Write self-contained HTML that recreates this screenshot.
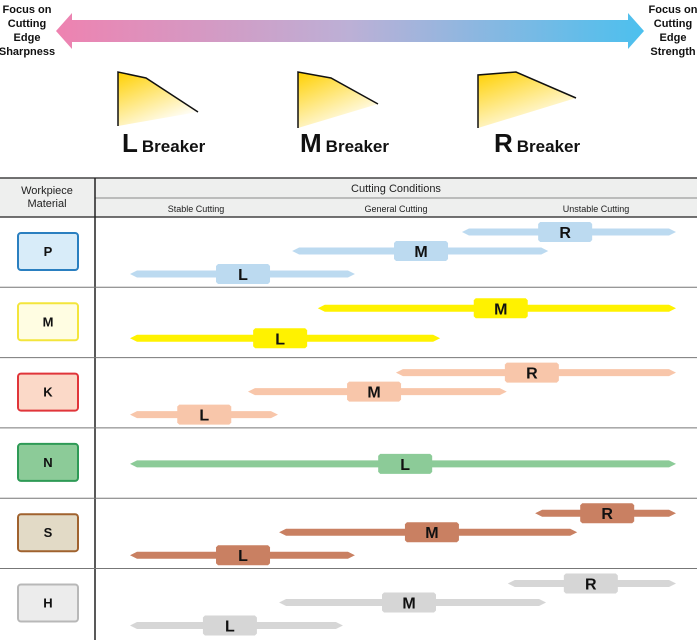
<!DOCTYPE html>
<html><head><meta charset="utf-8">
<style>
body{margin:0;background:#fff;font-family:"Liberation Sans",Arial,sans-serif;}
svg{display:block}
</style></head>
<body>
<svg id="chart" width="700" height="643" viewBox="0 0 700 643" xmlns="http://www.w3.org/2000/svg">
<defs>
<linearGradient id="arrowGrad" x1="0" x2="1" y1="0" y2="0">
<stop offset="0" stop-color="#ee82b0"/><stop offset="0.5" stop-color="#bcb0d6"/><stop offset="1" stop-color="#4cc0ee"/>
</linearGradient>
<linearGradient id="wedgeGrad" x1="0" y1="0" x2="0.6" y2="1">
<stop offset="0" stop-color="#ffd000"/><stop offset="1" stop-color="#ffffff"/>
</linearGradient>
</defs>
<g>
<polygon points="56,31 72,13 72,20 628,20 628,13 644,31 628,49 628,42 72,42 72,49" fill="url(#arrowGrad)"/>
</g>
<g font-size="11" font-weight="bold" text-anchor="middle" fill="#111">
<text x="27" y="13"><tspan x="27">Focus on</tspan><tspan x="27" dy="14">Cutting</tspan><tspan x="27" dy="14">Edge</tspan><tspan x="27" dy="14">Sharpness</tspan></text>
<text x="673" y="13"><tspan x="673">Focus on</tspan><tspan x="673" dy="14">Cutting</tspan><tspan x="673" dy="14">Edge</tspan><tspan x="673" dy="14">Strength</tspan></text>
</g>
<g>
<polygon points="118,72 146,78 198,112 118,126" fill="url(#wedgeGrad)"/>
<polyline points="118,126 118,72 146,78 198,112" fill="none" stroke="#111" stroke-width="1.5"/>
</g>
<g>
<polygon points="298,72 331,78 378,104 298,128" fill="url(#wedgeGrad)"/>
<polyline points="298,128 298,72 331,78 378,104" fill="none" stroke="#111" stroke-width="1.5"/>
</g>
<g>
<polygon points="478,75 516,72 576,98 478,128" fill="url(#wedgeGrad)"/>
<polyline points="478,128 478,75 516,72 576,98" fill="none" stroke="#111" stroke-width="1.5"/>
</g>
<g font-weight="bold" fill="#111">
<text x="122" y="152"><tspan font-size="26">L</tspan><tspan font-size="17" dx="4">Breaker</tspan></text>
<text x="300" y="152"><tspan font-size="26">M</tspan><tspan font-size="17" dx="4">Breaker</tspan></text>
<text x="494" y="152"><tspan font-size="26">R</tspan><tspan font-size="17" dx="4">Breaker</tspan></text>
</g>
<g>
<rect x="0" y="178" width="697" height="39" fill="#eeefee"/>
<line x1="0" y1="178" x2="697" y2="178" stroke="#444" stroke-width="1.5"/>
<line x1="95" y1="198" x2="697" y2="198" stroke="#888" stroke-width="1"/>
<line x1="0" y1="217" x2="697" y2="217" stroke="#444" stroke-width="1.5"/>
<line x1="95" y1="178" x2="95" y2="640" stroke="#222" stroke-width="1.5"/>
<text x="47" y="194" font-size="11" text-anchor="middle" fill="#222"><tspan x="47">Workpiece</tspan><tspan x="47" dy="13">Material</tspan></text>
<text x="396" y="192" font-size="11" text-anchor="middle" fill="#222">Cutting Conditions</text>
<text x="196" y="212" font-size="9" text-anchor="middle" fill="#222">Stable Cutting</text>
<text x="396" y="212" font-size="9" text-anchor="middle" fill="#222">General Cutting</text>
<text x="596" y="212" font-size="9" text-anchor="middle" fill="#222">Unstable Cutting</text>
</g>
<g id="rows"></g>
</svg>
<script>
// Materials and their range bars (values on 0-100 cutting-condition scale: 0=stable, 100=unstable)
const materials = ["P","M","K","N","S","H"];
const barMaterial = ["P","P","P","M","M","K","K","K","N","S","S","S","H","H","H"];
const barBreaker  = ["R","M","L","M","L","R","M","L","L","R","M","L","R","M","L"];
const barStart    = [60.8,29.7,0,34.4,0,48.7,21.6,0,0,74.2,27.3,0,69.2,27.3,0];
const barEnd      = [100,76.6,41.2,100,56.8,100,69,27.1,100,100,81.9,41.2,100,76.2,39];
const barLabelPos = [79.7,53.3,20.7,67.9,27.5,73.6,44.7,13.6,50.4,87.4,55.3,20.7,84.4,51.1,18.3];
const fills  = {P:"#bcdaf0",M:"#fff200",K:"#f8c6aa",N:"#8ccb98",S:"#c98062",H:"#d6d6d6"};
const boxFill= {P:"#d8ecf9",M:"#fffde2",K:"#fbd9c8",N:"#8ccb98",S:"#e2dac6",H:"#ececec"};
const boxStroke={P:"#2a7fc0",M:"#f3e53c",K:"#e0353a",N:"#2e9a56",S:"#a0622e",H:"#b8b8b8"};
const NS="http://www.w3.org/2000/svg";
const rows=document.getElementById('rows');
const rowTop=217, rowH=70.3;
const xScale=v=>130+v/100*546;
function el(tag,attrs){const e=document.createElementNS(NS,tag);for(const k in attrs)e.setAttribute(k,attrs[k]);return e;}
materials.forEach((m,i)=>{
  const y0=rowTop+i*rowH;
  const g=el('g',{});
  
  
  if(i<materials.length-1){const ln=el('line',{x1:0,x2:697,y1:y0+rowH,y2:y0+rowH,stroke:'#777','stroke-width':1});g.appendChild(ln);}
  const box=el('rect',{x:18,y:y0+16,width:60,height:37,rx:3,fill:boxFill[m],stroke:boxStroke[m],'stroke-width':2});
  
  
  g.appendChild(box);
  const t=el('text',{x:48,y:y0+39,'font-size':13,'font-weight':'bold','text-anchor':'middle',fill:'#111'});
  t.textContent=m;
  
  
  g.appendChild(t);
  rows.appendChild(g);
});
// vertical offsets within a row by breaker count
barMaterial.forEach((m,i)=>{
  const ri=materials.indexOf(m);
  const y0=rowTop+ri*rowH;
  const inRow=barMaterial.map((mm,j)=>mm===m?j:-1).filter(j=>j>=0);
  const k=inRow.indexOf(i), n=inRow.length;
  let cy;
  if(n===1) cy=y0+36; else if(n===2) cy=y0+[21,51][k]; else cy=y0+[15,34,57][k];
  const x1=xScale(barStart[i]), x2=xScale(barEnd[i]), h=3.5;
  const g=el('g',{});
  
  
  const shaft=el('polygon',{points:`${x1},${cy} ${x1+7},${cy-h} ${x2-7},${cy-h} ${x2},${cy} ${x2-7},${cy+h} ${x1+7},${cy+h}`,fill:fills[m]});
  g.appendChild(shaft);
  const lx=xScale(barLabelPos[i]), w=27, bh=10, c=2;
  const lab=el('polygon',{points:`${lx-w+c},${cy-bh} ${lx+w-c},${cy-bh} ${lx+w},${cy-bh+c} ${lx+w},${cy+bh-c} ${lx+w-c},${cy+bh} ${lx-w+c},${cy+bh} ${lx-w},${cy+bh-c} ${lx-w},${cy-bh+c}`,fill:fills[m]});
  g.appendChild(lab);
  const t=el('text',{x:lx,y:cy+6,'font-size':16,'font-weight':'bold','text-anchor':'middle',fill:'#111'});
  t.textContent=barBreaker[i];
  g.appendChild(t);
  rows.appendChild(g);
});
</script>
</body></html>
